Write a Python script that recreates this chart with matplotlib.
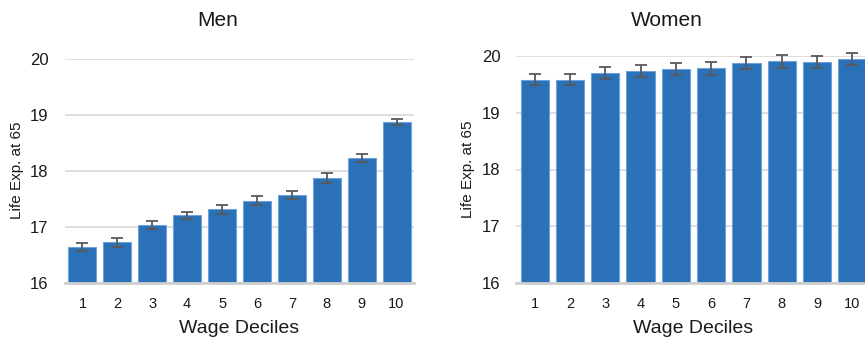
import matplotlib
matplotlib.use("Agg")
import matplotlib.pyplot as plt

plt.rcParams['font.family'] = ['Liberation Sans', 'DejaVu Sans']

deciles = [1, 2, 3, 4, 5, 6, 7, 8, 9, 10]
tick_labels = ["1", "2", "3", "4", "5", "6", "7", "8", "9", "10"]

men_values = [16.64, 16.72, 17.03, 17.20, 17.31, 17.46, 17.57, 17.87, 18.23, 18.87]
men_errors = [0.07, 0.08, 0.08, 0.07, 0.08, 0.08, 0.075, 0.083, 0.07, 0.055]

women_values = [19.59, 19.59, 19.70, 19.74, 19.78, 19.79, 19.88, 19.91, 19.90, 19.95]
women_errors = [0.094, 0.10, 0.106, 0.106, 0.11, 0.118, 0.11, 0.11, 0.11, 0.10]

y_ticks = [16, 17, 18, 19, 20]

BAR_COLOR = "#2a71b8"
EDGE_COLOR = "#6fa3d8"
ERR_COLOR = "#595959"
GRID_COLOR = "#d9d9d9"
BASE_COLOR = "#cfcfcf"

fig = plt.figure(figsize=(8.65, 3.37), dpi=100)

panels = [
    ("Men", men_values, men_errors, [65 / 865, (337 - 282.7) / 337, 349 / 865, 224 / 337],
     (0.5, 10.5), 218 / 865, 12, 4),
    ("Women", women_values, women_errors, [516 / 865, (337 - 282.7) / 337, 355 / 865, 226.4 / 337],
     (0.47, 10.53), 667 / 865, 11, 5),
]

for title, vals, errs, rect, xlim, title_x, ypad, ylabelpad in panels:
    ax = fig.add_axes(rect)
    ax.set_axisbelow(True)
    ax.bar(deciles, [v - 16 for v in vals], bottom=16, width=0.8,
           color=BAR_COLOR, edgecolor=EDGE_COLOR, linewidth=0.8, zorder=2)
    eb = ax.errorbar(deciles, vals, yerr=errs, fmt="none", ecolor=ERR_COLOR,
                     elinewidth=1.3, capsize=4, capthick=1.3, zorder=3)
    for artist in eb.lines[1] + eb.lines[2]:
        artist.set_clip_on(False)
    ax.set_xlim(*xlim)
    ax.set_ylim(16, 20)
    ax.set_yticks(y_ticks)
    ax.set_xticks(deciles)
    ax.set_xticklabels(tick_labels)
    ax.yaxis.grid(True, color=GRID_COLOR, linewidth=1.2)
    ax.xaxis.grid(False)
    for side in ("top", "right", "left"):
        ax.spines[side].set_visible(False)
    ax.spines["bottom"].set_color(BASE_COLOR)
    ax.spines["bottom"].set_linewidth(2)
    ax.spines["bottom"].set_zorder(4)
    ax.tick_params(axis="y", length=0, pad=ypad, labelsize=12, labelcolor="#1a1a1a")
    ax.tick_params(axis="x", length=0, pad=10, labelsize=10.5, labelcolor="#1a1a1a")
    ax.set_xlabel("Wage Deciles", fontsize=14, labelpad=7, color="#1a1a1a")
    ax.set_ylabel("Life Exp. at 65", fontsize=11, labelpad=ylabelpad, color="#1a1a1a")
    fig.text(title_x, 1 - 20 / 337, title, fontsize=15, ha="center", va="center",
             color="#1a1a1a")

fig.savefig("out.png", dpi=100)
